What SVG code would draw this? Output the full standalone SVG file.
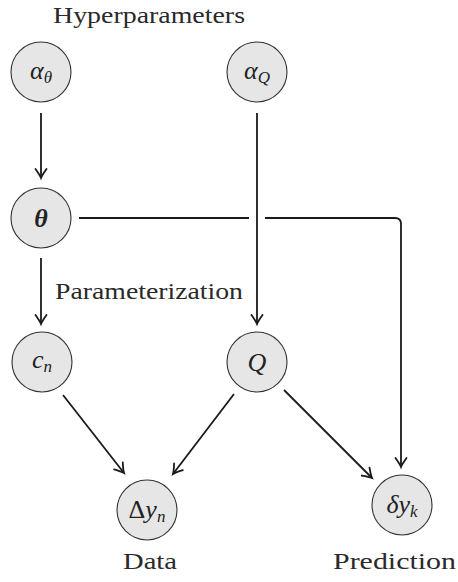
<svg xmlns="http://www.w3.org/2000/svg" width="458" height="582" viewBox="0 0 458 582">
<style>
.node{fill:#e6e6e6;stroke:#333;stroke-width:1.1}
.lbl{font-family:'Liberation Serif',serif;font-size:24px;fill:#2a2a2a}
.m{font-family:'Liberation Serif',serif;font-style:italic;font-size:26px;fill:#222;text-anchor:middle}
.sub{font-size:17px}
.edge{fill:none;stroke:#1a1a1a;stroke-width:1.8}
</style>
<defs>
<marker id="ah" markerUnits="userSpaceOnUse" markerWidth="14" markerHeight="14" viewBox="-10 -7 12 14" refX="0" refY="0" orient="auto">
<path d="M-9,-5.5 Q-3,-1.2 0,0 Q-3,1.2 -9,5.5" fill="none" stroke="#1a1a1a" stroke-width="1.8" stroke-linecap="round"/>
</marker>
</defs>
<text class="lbl" x="53" y="23" textLength="192" lengthAdjust="spacingAndGlyphs">Hyperparameters</text>
<text class="lbl" x="55" y="299" textLength="188" lengthAdjust="spacingAndGlyphs">Parameterization</text>
<text class="lbl" x="123" y="569" textLength="54" lengthAdjust="spacingAndGlyphs">Data</text>
<text class="lbl" x="333" y="569" textLength="123" lengthAdjust="spacingAndGlyphs">Prediction</text>
<g id="connectors">
<path class="edge" d="M41,113 V178" marker-end="url(#ah)"/>
<path class="edge" d="M257,113 V324" marker-end="url(#ah)"/>
<path class="edge" d="M41,258 V324" marker-end="url(#ah)"/>
<path class="edge" d="M79,218 H249"/>
<path class="edge" d="M265,218 H395 Q401,218 401,224 V467" marker-end="url(#ah)"/>
<path class="edge" d="M63,395 L124,473" marker-end="url(#ah)"/>
<path class="edge" d="M234,394 L173,474" marker-end="url(#ah)"/>
<path class="edge" d="M284,390 L372,478" marker-end="url(#ah)"/>
</g>
<g id="alpha_theta"><circle class="node" cx="41" cy="72" r="30"/><text class="m" x="41" y="79">α<tspan class="sub" dy="4">θ</tspan></text></g>
<g id="alpha_Q"><circle class="node" cx="257" cy="72" r="30"/><text class="m" x="257" y="79">α<tspan class="sub" dy="4">Q</tspan></text></g>
<g id="theta"><circle class="node" cx="41" cy="218" r="30"/><text class="m" x="41" y="227" font-weight="bold">θ</text></g>
<g id="c_n"><circle class="node" cx="42" cy="362" r="30"/><text class="m" x="42" y="368">c<tspan class="sub" dy="4">n</tspan></text></g>
<g id="Q"><circle class="node" cx="257" cy="362" r="30"/><text class="m" x="257" y="371">Q</text></g>
<g id="delta_y_n"><circle class="node" cx="147" cy="510" r="30"/><text class="m" x="147" y="518"><tspan font-style="normal">Δ</tspan>y<tspan class="sub" dy="4">n</tspan></text></g>
<g id="delta_y_k"><circle class="node" cx="402" cy="505" r="30"/><text class="m" x="402" y="513">δy<tspan class="sub" dy="4">k</tspan></text></g>
</svg>
